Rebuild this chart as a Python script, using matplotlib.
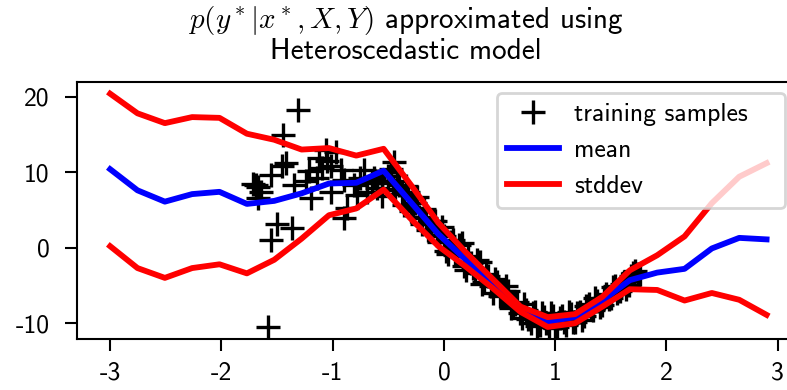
import matplotlib
matplotlib.use("Agg")
import matplotlib.pyplot as plt

plt.rcParams['font.family'] = ['cmss10', 'DejaVu Sans']
plt.rcParams['mathtext.fontset'] = 'cm'
plt.rcParams['axes.unicode_minus'] = False

# prediction grid
x_grid = [-3.0, -2.754, -2.508, -2.263, -2.017, -1.771, -1.525, -1.279, -1.033,
          -0.788, -0.542, -0.296, -0.05, 0.196, 0.442, 0.688, 0.933, 1.179,
          1.425, 1.671, 1.917, 2.163, 2.408, 2.654, 2.9]
mean = [10.4, 7.6, 6.1, 7.1, 7.4, 5.8, 6.2, 7.2, 8.5, 8.6, 10.2, 6.0, 1.8, -1.6,
        -4.8, -8.3, -9.8, -9.2, -7.0, -4.3, -3.3, -2.8, -0.1, 1.3, 1.1]
upper = [20.4, 17.8, 16.5, 17.3, 17.2, 15.1, 14.3, 13.0, 13.2, 12.2, 13.1, 8.3,
         3.3, -0.6, -4.2, -7.8, -9.2, -8.8, -6.5, -3.0, -1.0, 1.5, 5.9, 9.4, 11.2]
lower = [0.2, -2.7, -4.0, -2.7, -2.2, -3.4, -1.6, 1.2, 4.3, 5.2, 7.7, 3.8, 0.2,
         -2.5, -5.4, -8.5, -10.5, -10.0, -7.8, -5.5, -5.6, -7.0, -6.0, -6.9, -8.9]

# training samples
train_x = [-1.307, -1.445, -1.421, -1.72, -1.69, -1.646, -1.675, -1.67, -1.556,
           -1.451, -1.496, -1.556, -1.361, -1.346, -1.212, -1.197, -1.122, -1.062,
           -1.017, -0.972, -0.927, -1.017, -1.137, -1.242, -0.867, -0.898, -0.718,
           -0.688, -0.778, -0.808, -0.628, -0.598, -0.553, -0.553, -1.585, -1.05,
           -1.10, -0.90, -0.75, -0.65, -0.45, -0.50, -0.60,
           -0.48, -0.44, -0.40, -0.36, -0.32, -0.28, -0.24, -0.20, -0.16, -0.12,
           -0.08, -0.04, 0.00, 0.04, 0.08, 0.12, 0.16, 0.20, 0.24, 0.28, 0.32,
           0.36, 0.40, 0.44, 0.48, 0.52, 0.56, 0.60, 0.64, 0.68, 0.72, 0.76,
           0.80, 0.84, 0.88, 0.92, 0.96, 1.00, 1.04, 1.08, 1.12, 1.16, 1.20,
           1.24, 1.28, 1.32, 1.36, 1.40, 1.44, 1.48, 1.52, 1.56, 1.60, 1.64,
           1.68, 1.72, 1.76,
           -0.46, -0.42, -0.38, -0.34, -0.30, -0.26, -0.22, -0.18, -0.14, -0.10,
           -0.06, -0.02, 0.02, 0.06, 0.10, 0.14, 0.18, 0.22, 0.26, 0.30, 0.34,
           0.38, 0.42, 0.46, 0.50, 0.54, 0.58, 0.62, 0.66, 0.70, 0.74, 0.78,
           0.82, 0.86, 0.90, 0.94, 0.98, 1.02, 1.06, 1.10, 1.14, 1.18, 1.22,
           1.26, 1.30, 1.34, 1.38, 1.42, 1.46, 1.50, 1.54, 1.58, 1.62, 1.66,
           1.70, 1.74]
train_y = [18.2, 14.9, 11.2, 8.5, 8.3, 7.4, 8.1, 6.6, 9.6, 10.8, 3.2, 1.0, 2.6,
           8.3, 10.1, 6.6, 11.9, 13.0, 10.8, 12.7, 10.3, 7.4, 9.2, 8.8, 5.2, 3.9,
           10.3, 7.4, 7.0, 8.3, 9.2, 7.9, 6.8, 8.6, -10.5, 11.5, 10.5, 9.0, 9.2,
           8.6, 11.4, 9.5, 8.9,
           10.4, 7.6, 8.3, 5.6, 7.4, 5.3, 6.7, 3.2, 3.9, 2.4, 3.6, 0.8, 1.6, -0.9,
           1.0, -1.0, 0.6, -2.9, -2.0, -3.3, -1.9, -4.6, -3.8, -6.0, -4.5, -6.2,
           -5.1, -8.0, -7.4, -8.7, -7.5, -9.4, -8.6, -10.4, -8.7, -10.0, -8.7,
           -10.6, -9.3, -9.8, -8.5, -9.8, -8.7, -9.6, -7.7, -8.1, -6.6, -7.9,
           -6.7, -6.8, -5.2, -6.0, -4.8, -5.5, -3.7, -3.1, -3.5,
           7.8, 8.9, 7.1, 8.2, 4.8, 5.9, 4.0, 5.1, 2.3, 3.5, 1.7, 2.8, -0.5, 0.8,
           -1.0, 0.3, -2.4, -1.1, -2.7, -1.6, -4.8, -3.5, -5.1, -4.2, -6.4, -5.8,
           -5.7, -7.8, -7.2, -9.3, -8.3, -10.0, -8.5, -10.3, -9.2, -10.5, -9.1,
           -10.5, -9.1, -10.2, -8.8, -9.8, -8.5, -9.1, -7.4, -8.3, -7.0, -7.6,
           -6.1, -6.6, -5.1, -5.8, -4.5, -4.9, -3.4, -3.5]

W, H = 787, 390
fig = plt.figure(figsize=(W / 100, H / 100), dpi=100)
ax = fig.add_axes([77.3 / W, (H - 338.5) / H, (799.4 - 77.3) / W, (338.5 - 82) / H])

ax.plot(train_x, train_y, linestyle='none', marker='+', color='black',
        markersize=17, markeredgewidth=2.4, label='training samples')
ax.plot(x_grid, mean, color='blue', linewidth=4.2, label='mean')
ax.plot(x_grid, upper, color='red', linewidth=4.2, label='stddev')
ax.plot(x_grid, lower, color='red', linewidth=4.2)

ax.set_xlim(-3.295, 3.195)
ax.set_ylim(-12.03, 21.95)
ax.set_xticks([-3, -2, -1, 0, 1, 2, 3])
ax.set_yticks([-10, 0, 10, 20])
ax.tick_params(direction='out', length=8.6, width=1.5, labelsize=18.5, pad=8)
ax.tick_params(axis='y', pad=11.5)
for s in ax.spines.values():
    s.set_linewidth(1.5)

ax_w = 799.4 - 77.3
ax_h = 338.5 - 82
leg_x0 = (497 - 77.3) / ax_w
leg_x1 = (785 - 77.3) / ax_w
leg_top = (338.5 - 93) / ax_h
leg = ax.legend(loc='upper right', fontsize=18.5, framealpha=0.8, edgecolor='0.8',
                numpoints=1, mode='expand', borderaxespad=0,
                bbox_to_anchor=(leg_x0, 0, leg_x1 - leg_x0, leg_top),
                handlelength=2.0, handletextpad=0.6)
leg.get_frame().set_linewidth(2)

fig.text(406 / W, 1 - 28 / H, r'$p(y^*|x^*, X, Y)$ approximated using',
         ha='center', va='baseline', fontsize=21)
fig.text(406 / W, 1 - 59 / H, 'Heteroscedastic model',
         ha='center', va='baseline', fontsize=21)

fig.savefig('out.png', dpi=100)
